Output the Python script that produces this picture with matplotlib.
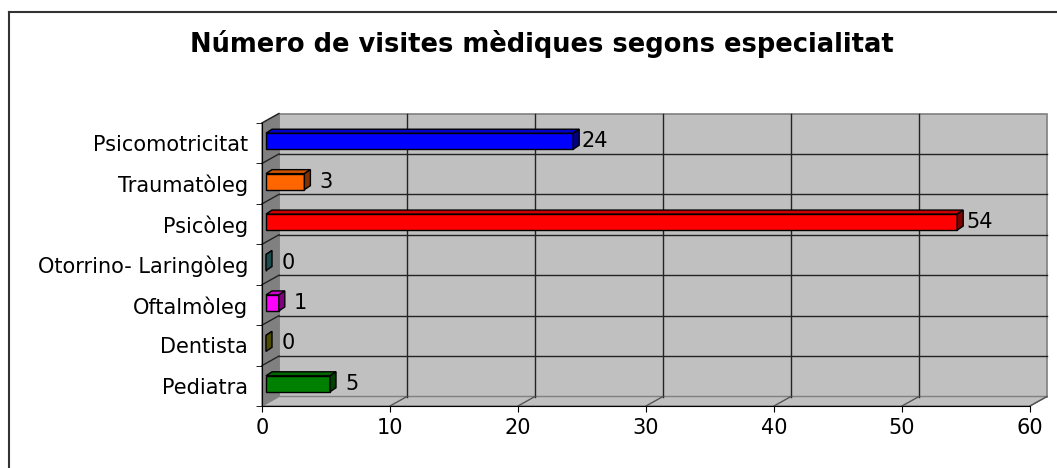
import matplotlib
matplotlib.use("Agg")
from matplotlib import pyplot as plt
from matplotlib.patches import Polygon
import numpy as np

# data (bottom to top, as drawn)
especialitats = ["Pediatra", "Dentista", "Oftalmòleg", "Otorrino- Laringòleg",
                 "Psicòleg", "Traumatòleg", "Psicomotricitat"]
visites = [5, 0, 1, 0, 54, 3, 24]
colors = ["#008000", "#999900", "#ff00ff", "#339999", "#ff0000", "#ff6600", "#0000ff"]
xticks = [0, 10, 20, 30, 40, 50, 60]
title = "Número de visites mèdiques segons especialitat"

plt.rcParams['font.family'] = ['DejaVu Sans']

W, H = 1057, 468
fig = plt.figure(figsize=(W / 100, H / 100), dpi=100)

# front plane of the 3D box in pixels
x0p, x1p, ybot, ytop = 262, 1030, 406, 123
ax = fig.add_axes([x0p / W, 1 - ybot / H, (x1p - x0p) / W, (ybot - ytop) / H])
n = len(especialitats)
xmax = xticks[-1]
ax.set_xlim(0, xmax)
ax.set_ylim(-0.5, n - 0.5)

sx = (x1p - x0p) / xmax        # px per unit
sy = (ybot - ytop) / n         # px per category
DX, DY = 17 / sx, 9.5 / sy     # depth of the box

def poly(pts, **kw):
    p = Polygon(pts, closed=True, clip_on=False, **kw)
    ax.add_patch(p)

lo, hi = -0.5, n - 0.5
# back wall
poly([(DX, lo + DY), (xmax + DX, lo + DY), (xmax + DX, hi + DY), (DX, hi + DY)],
     facecolor="#c0c0c0", edgecolor="#808080", lw=1.2, zorder=0)
# side wall
poly([(0, lo), (DX, lo + DY), (DX, hi + DY), (0, hi)],
     facecolor="#808080", edgecolor="#808080", lw=1, zorder=0)
# floor
poly([(0, lo), (xmax, lo), (xmax + DX, lo + DY), (DX, lo + DY)],
     facecolor="#c0c0c0", edgecolor="#808080", lw=1, zorder=0)

# gridlines on back wall, side wall and floor
for xv in xticks[1:-1]:
    ax.plot([xv + DX, xv + DX], [lo + DY, hi + DY], color="#222222", lw=1, zorder=1, clip_on=False)
for xv in xticks[1:]:
    ax.plot([xv, xv + DX], [lo, lo + DY], color="#555555", lw=1, zorder=1, clip_on=False)
for k in range(1, n):
    yb = k - 0.5
    ax.plot([DX, xmax + DX], [yb + DY, yb + DY], color="#222222", lw=1, zorder=1, clip_on=False)
    ax.plot([0, DX], [yb, yb + DY], color="#222222", lw=1, zorder=1, clip_on=False)
ax.plot([0, DX], [hi, hi + DY], color="#222222", lw=1, zorder=1, clip_on=False)

# bars
bx, by = 4 / sx, 2 / sy
ddx, ddy = 6 / sx, 4 / sy
bh = 16 / sy
for i, (v, c) in enumerate(zip(visites, colors)):
    rgb = np.array(matplotlib.colors.to_rgb(c))
    xa, xb = bx, v + bx
    ya, yb_ = i + by - bh / 2, i + by + bh / 2
    poly([(xa, ya), (xb, ya), (xb, yb_), (xa, yb_)], facecolor=c, edgecolor="black", lw=1, zorder=3)
    poly([(xa, yb_), (xb, yb_), (xb + ddx, yb_ + ddy), (xa + ddx, yb_ + ddy)],
         facecolor=rgb * 0.8, edgecolor="black", lw=1, zorder=3)
    poly([(xb, ya), (xb, yb_), (xb + ddx, yb_ + ddy), (xb + ddx, ya + ddy)],
         facecolor=rgb * 0.5, edgecolor="black", lw=1, zorder=3)
    ax.text(v + 26 / sx, i + by, str(v), ha="center", va="center", fontsize=15, zorder=4)

# axes
ax.set_facecolor("none")
for s in ["top", "right"]:
    ax.spines[s].set_visible(False)
ax.spines["left"].set_zorder(2)
ax.spines["bottom"].set_zorder(2)
ax.set_xticks(xticks)
ax.tick_params(axis="x", direction="out", length=4, pad=5, labelsize=15)
ax.set_yticks(range(n))
ax.set_yticklabels(especialitats)
ax.tick_params(axis="y", which="major", length=0, pad=10, labelsize=15)
ax.set_yticks(np.arange(n + 1) - 0.5, minor=True)
ax.tick_params(axis="y", which="minor", direction="out", length=4)

fig.text(542 / W, 1 - 44 / H, title, ha="center", va="center", fontsize=18.5, fontweight="bold")

# outer chart border
fig.add_artist(plt.Line2D([8.5 / W, 8.5 / W], [0, 1 - 12 / H], color="#333333", lw=1.5))
fig.add_artist(plt.Line2D([8.5 / W, 1], [1 - 12 / H, 1 - 12 / H], color="#333333", lw=1.5))

fig.savefig("out.png", dpi=100)
